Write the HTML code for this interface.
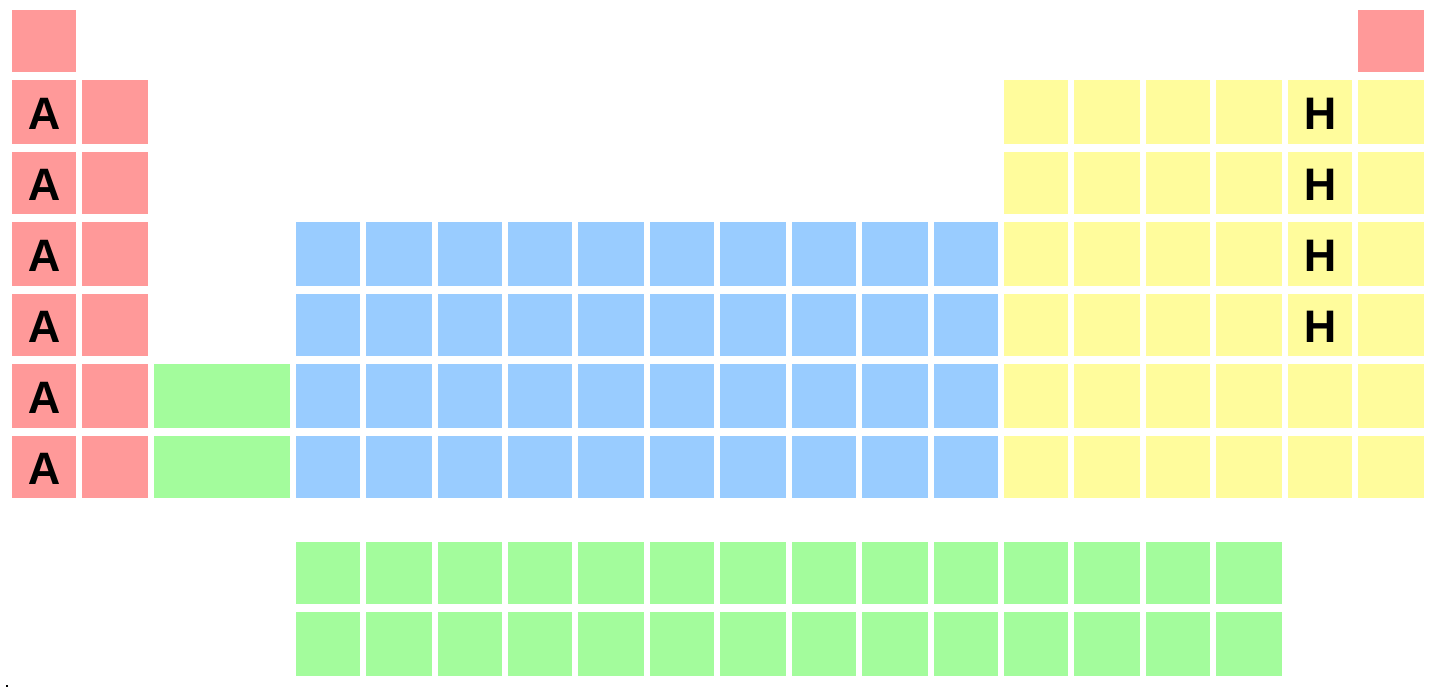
<!DOCTYPE html>
<html><head><meta charset="utf-8"><style>
html,body{margin:0;padding:0;background:#fff;width:1434px;height:688px;overflow:hidden;position:relative;}
.cell{position:absolute;display:flex;align-items:center;justify-content:center;font-family:"Liberation Sans",sans-serif;font-weight:bold;font-size:45px;color:#000;box-sizing:border-box;padding-top:4px;}
</style></head><body>
<div style="position:absolute;left:6px;top:685px;width:2px;height:2px;background:#000"></div>
<script>
const colLeft=[12,82,154,224,296,366,438,508,578,650,720,792,862,934,1004,1074,1146,1216,1288,1358,1430];
const rowTop=[10,80,152,222,294,364,436,506,542,612,684];
const colors={s:'#ff9999',d:'#99ccff',f:'#a3fc9c',p:'#fffc9c'};
const rowsSpec=[
 [0,0,1,'s',''],[0,19,1,'s',''],
];
const cellRows=[];
const cellCols=[];
const cellSpans=[];
const cellBlocks=[];
const cellLabels=[];
function add(r,c,s,b,l){cellRows.push(r);cellCols.push(c);cellSpans.push(s);cellBlocks.push(b);cellLabels.push(l);}
rowsSpec.forEach(a=>add(...a));
for(let r=1;r<=6;r++){
  add(r,0,1,'s','A');add(r,1,1,'s','');
  if(r>=5) add(r,2,2,'f','');
  if(r>=3) for(let c=4;c<=13;c++) add(r,c,1,'d','');
  for(let c=14;c<=19;c++) add(r,c,1,'p',(c===18&&r<=4)?'H':'');
}
for(let r=8;r<=9;r++) for(let c=4;c<=17;c++) add(r,c,1,'f','');
for(let i=0;i<cellRows.length;i++){
  const el=document.createElement('div');
  el.className='cell';
  
  
  const c=cellCols[i],r=cellRows[i],s=cellSpans[i];
  const x=colLeft[c],w=colLeft[c+s]-6-x;
  const y=rowTop[r];
  let h=rowTop[r+1]-8-y;
  if(r===6) h=62;
  el.style.left=x+'px';el.style.top=y+'px';el.style.width=w+'px';el.style.height=h+'px';
  el.style.background=colors[cellBlocks[i]];
  el.textContent=cellLabels[i];
  document.body.appendChild(el);
}
</script>
</body></html>
